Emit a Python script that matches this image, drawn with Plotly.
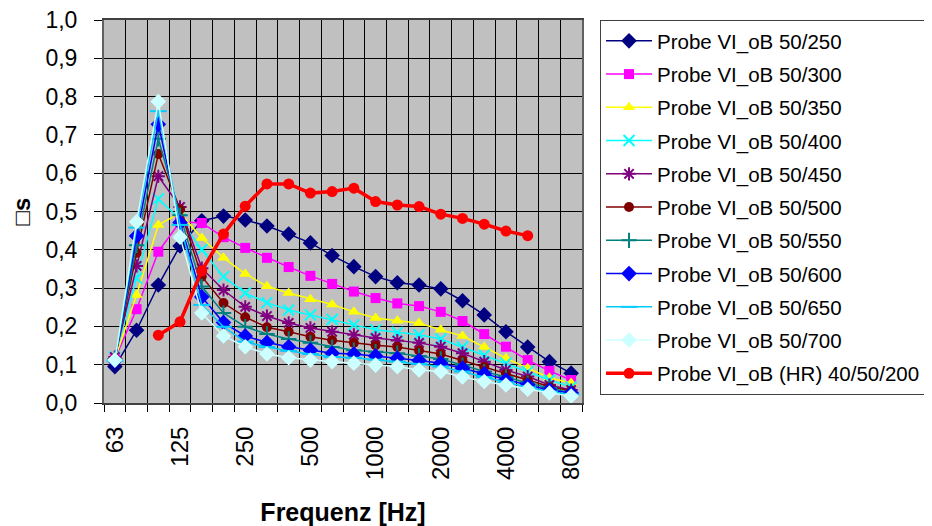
import plotly.graph_objects as go

freqs = ['63', '80', '100', '125', '160', '200', '250', '315', '400', '500', '630',
         '800', '1000', '1250', '1600', '2000', '2500', '3150', '4000', '5000', '6300', '8000']
label_freqs = ['63', '125', '250', '500', '1000', '2000', '4000', '8000']

names = ['Probe VI_oB 50/250', 'Probe VI_oB 50/300', 'Probe VI_oB 50/350', 'Probe VI_oB 50/400',
         'Probe VI_oB 50/450', 'Probe VI_oB 50/500', 'Probe VI_oB 50/550', 'Probe VI_oB 50/600',
         'Probe VI_oB 50/650', 'Probe VI_oB 50/700', 'Probe VI_oB (HR) 40/50/200']

s250 = [0.095, 0.19, 0.308, 0.41, 0.476, 0.488, 0.478, 0.462, 0.441, 0.418, 0.385,
        0.356, 0.330, 0.314, 0.308, 0.298, 0.267, 0.230, 0.186, 0.146, 0.108, 0.078]
s300 = [0.115, 0.245, 0.395, 0.473, 0.47, 0.433, 0.405, 0.379, 0.355, 0.332, 0.311,
        0.291, 0.274, 0.260, 0.253, 0.238, 0.214, 0.180, 0.147, 0.112, 0.084, 0.060]
s350 = [0.115, 0.282, 0.465, 0.496, 0.431, 0.379, 0.337, 0.305, 0.287, 0.271, 0.257,
        0.238, 0.222, 0.215, 0.209, 0.191, 0.175, 0.146, 0.117, 0.091, 0.066, 0.052]
s400 = [0.12, 0.326, 0.533, 0.48, 0.40, 0.330, 0.287, 0.262, 0.243, 0.230, 0.218,
        0.204, 0.191, 0.184, 0.178, 0.167, 0.146, 0.125, 0.104, 0.082, 0.060, 0.042]
s450 = [0.12, 0.358, 0.592, 0.512, 0.352, 0.295, 0.251, 0.227, 0.209, 0.196, 0.186,
        0.178, 0.170, 0.163, 0.157, 0.147, 0.130, 0.108, 0.086, 0.069, 0.047, 0.034]
s500 = [0.115, 0.392, 0.650, 0.506, 0.330, 0.261, 0.224, 0.198, 0.186, 0.173, 0.164,
        0.157, 0.151, 0.146, 0.137, 0.128, 0.111, 0.094, 0.076, 0.060, 0.043, 0.032]
s550 = [0.115, 0.412, 0.69, 0.49, 0.304, 0.235, 0.199, 0.180, 0.167, 0.157, 0.146,
        0.138, 0.134, 0.130, 0.123, 0.115, 0.099, 0.082, 0.068, 0.052, 0.039, 0.027]
s600 = [0.11, 0.436, 0.728, 0.471, 0.277, 0.210, 0.175, 0.158, 0.147, 0.138, 0.130,
        0.128, 0.123, 0.117, 0.111, 0.104, 0.091, 0.076, 0.060, 0.047, 0.034, 0.026]
s650 = [0.11, 0.458, 0.762, 0.465, 0.256, 0.199, 0.160, 0.146, 0.136, 0.128, 0.120,
        0.118, 0.113, 0.108, 0.102, 0.095, 0.082, 0.068, 0.054, 0.041, 0.030, 0.022]
s700 = [0.112, 0.473, 0.787, 0.433, 0.235, 0.175, 0.147, 0.128, 0.118, 0.112, 0.108,
        0.104, 0.099, 0.095, 0.086, 0.082, 0.068, 0.056, 0.047, 0.036, 0.026, 0.018]
s_hr = [None, None, 0.177, 0.212, 0.345, 0.441, 0.514, 0.572, 0.572, 0.548, 0.552,
        0.561, 0.526, 0.517, 0.513, 0.493, 0.482, 0.467, 0.449, 0.437, None, None]

series = [s250, s300, s350, s400, s450, s500, s550, s600, s650, s700, s_hr]

colors = ['#000080', '#FF00FF', '#FFFF00', '#00FFFF', '#800080', '#800000',
          '#008080', '#0000FF', '#00CCFF', '#CCFFFF', '#FF0000']
symbols = ['diamond', 'square', 'triangle-up', 'x-thin-open', 'asterisk-open', 'circle',
           'cross-thin-open', 'diamond', 'line-ew-open', 'diamond', 'circle']
msizes = [12, 10, 11, 11, 11, 10, 11, 12, 12, 12, 11]

xi = list(range(len(freqs)))

fig = go.Figure()
for k, (name, vals) in enumerate(zip(names, series)):
    open_sym = symbols[k].endswith('open')
    fig.add_trace(go.Scatter(
        x=xi, y=vals, name=name, mode='lines+markers',
        line=dict(color=colors[k], width=3.5 if k == 10 else 1.5),
        marker=dict(symbol=symbols[k], size=msizes[k], color=colors[k],
                    line=dict(color=colors[k], width=2 if open_sym else 0)),
        legendgroup=str(k), connectgaps=False,
    ))

# page has an 8px body margin, so the figure is a bit smaller than the window
fig.update_layout(
    width=924, height=518,
    margin=dict(l=96, r=350, t=12, b=123, autoexpand=False),
    paper_bgcolor='white', plot_bgcolor='#C0C0C0',
    separators=',.',
    font=dict(family='Liberation Sans, Arial, sans-serif', color='black'),
    showlegend=True,
    legend=dict(x=1.0377, y=1.0, xanchor='left', yanchor='top',
                bgcolor='white', bordercolor='#404040', borderwidth=1,
                font=dict(size=20.5), tracegroupgap=3.6, traceorder='grouped',
                itemwidth=46),
    hovermode=False,
)

fig.update_xaxes(
    range=[-0.5, len(freqs) - 0.5], automargin=False,
    tickmode='array', tickvals=[freqs.index(f) for f in label_freqs], ticktext=label_freqs,
    tickangle=-90, tickfont=dict(size=24), ticks='', showgrid=False,
    ticklabelstandoff=12, ticklabeloverflow='allow',
    minor=dict(tickmode='array', tickvals=[i - 0.5 for i in range(len(freqs) + 1)],
               ticks='outside', ticklen=7, tickcolor='black', showgrid=True,
               gridcolor='black', gridwidth=1),
    showline=True, linecolor='#404040', linewidth=2, mirror=True, zeroline=False,
    title=dict(text='Frequenz [Hz]', font=dict(size=25, weight='bold'), standoff=25),
)
fig.update_yaxes(
    range=[0, 1], dtick=0.1, tickformat='.1f', tickfont=dict(size=23), automargin=False,
    ticks='outside', ticklen=8, tickcolor='black', ticklabelstandoff=12,
    ticklabeloverflow='allow',
    showgrid=True, gridcolor='black', gridwidth=1, zeroline=False,
    showline=True, linecolor='#606060', linewidth=2, mirror=True,
    title=dict(text='\u25a1s', font=dict(size=24, weight='bold'), standoff=20),
)

fig.write_html('out.html')
